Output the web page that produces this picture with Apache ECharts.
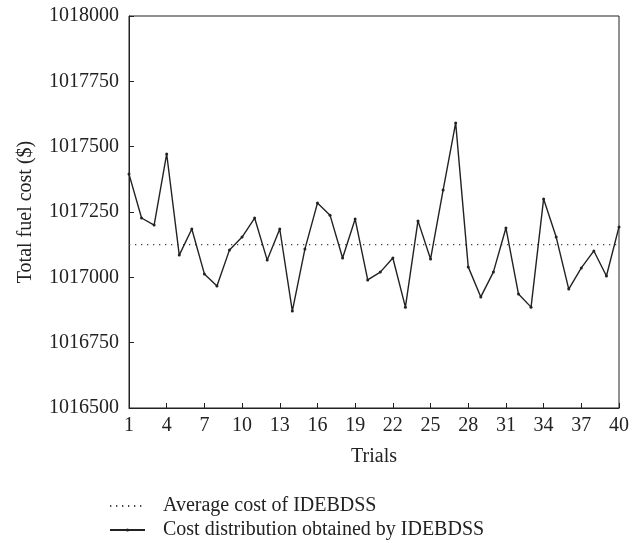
<!DOCTYPE html>
<html>
<head>
<meta charset="utf-8">
<script src="https://cdn.jsdelivr.net/npm/echarts@6/dist/echarts.min.js"></script>
<style>html,body{margin:0;padding:0;background:#fff}#c{width:640px;height:543px}</style>
</head>
<body>
<div id="c"></div>
<script>
var trials = [];
for (var i = 1; i <= 40; i++) trials.push(String(i));
var costValues = [1017395, 1017227, 1017200, 1017472, 1017085, 1017185, 1017013, 1016967, 1017105, 1017154,
  1017227, 1017066, 1017185, 1016871, 1017108, 1017284, 1017238, 1017074, 1017223, 1016990,
  1017020, 1017074, 1016886, 1017216, 1017070, 1017334, 1017591, 1017040, 1016925, 1017020,
  1017189, 1016936, 1016886, 1017300, 1017154, 1016955, 1017036, 1017101, 1017005, 1017193];
var averageCost = 1017125;
var averageValues = trials.map(function () { return averageCost; });
var seriesNames = ['Average cost of IDEBDSS', 'Cost distribution obtained by IDEBDSS'];

var font = 'Liberation Serif';
var legendText = { fontFamily: font, fontSize: 20, lineHeight: 20, color: '#222', padding: [0, 0, 0, 13] };
var chart = echarts.init(document.getElementById('c'));
chart.setOption({
  animation: false,
  backgroundColor: '#fff',
  textStyle: { fontFamily: font },
  grid: { left: 129, right: 21, top: 16, bottom: 135, show: true, borderColor: '#222', borderWidth: 1 },
  legend: [
    {
      left: 109, top: 496, itemWidth: 35, itemHeight: 4, padding: 0,
      textStyle: legendText,
      data: [{ name: seriesNames[0], itemStyle: { opacity: 0 } }]
    },
    {
      left: 109, top: 520, itemWidth: 35, itemHeight: 4, padding: 0,
      textStyle: legendText,
      data: [{ name: seriesNames[1] }]
    }
  ],
  xAxis: {
    type: 'category', data: trials, boundaryGap: false,
    name: 'Trials', nameLocation: 'middle', nameGap: 39,
    nameTextStyle: { fontFamily: font, fontSize: 20, color: '#222' },
    axisLine: { lineStyle: { color: '#222', width: 1 } },
    axisTick: { inside: true, length: 5, interval: 2, lineStyle: { color: '#222' } },
    axisLabel: { interval: 2, fontFamily: font, fontSize: 20, color: '#222', margin: 8 },
    splitLine: { show: false }
  },
  yAxis: {
    type: 'value', min: 1016500, max: 1018000, interval: 250,
    name: 'Total fuel cost ($)', nameLocation: 'middle', nameGap: 93,
    nameTextStyle: { fontFamily: font, fontSize: 20, color: '#222' },
    axisLine: { show: true, lineStyle: { color: '#222', width: 1 } },
    axisTick: { show: true, inside: true, length: 5, lineStyle: { color: '#222' } },
    axisLabel: { fontFamily: font, fontSize: 20, color: '#222', margin: 10,
      formatter: function (v) { return String(v); } },
    splitLine: { show: false }
  },
  series: [
    {
      name: seriesNames[0], type: 'line', data: averageValues, symbol: 'none',
      lineStyle: { color: '#444', width: 1.3, type: [1.3, 4.7] },
      itemStyle: { color: '#444' }
    },
    {
      name: seriesNames[1], type: 'line', data: costValues, symbol: 'circle', symbolSize: 3,
      lineStyle: { color: '#222', width: 1.4 },
      itemStyle: { color: '#222' }
    }
  ]
});
</script>
</body>
</html>
